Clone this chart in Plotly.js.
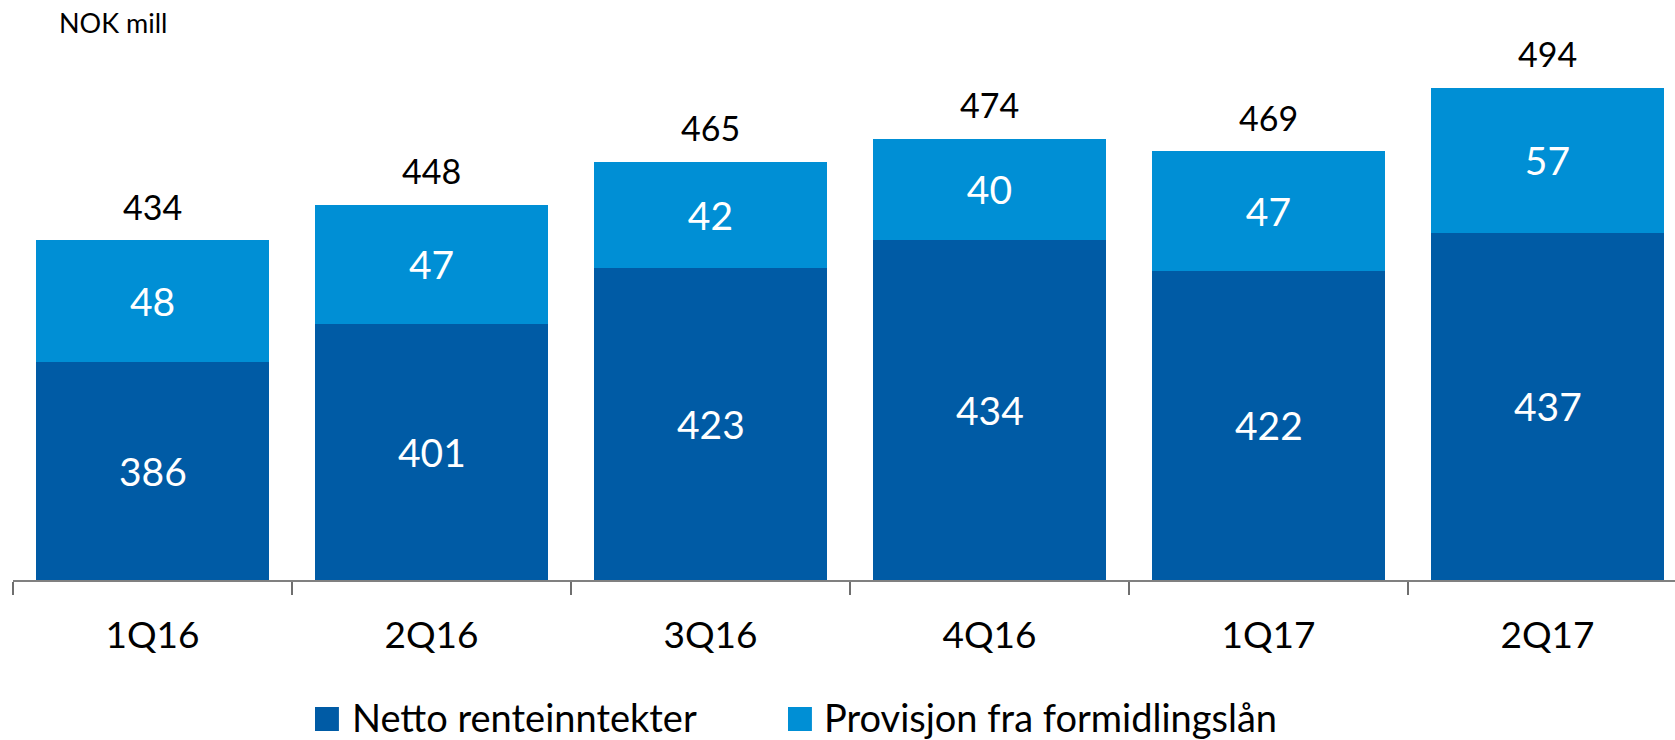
<!DOCTYPE html>
<html>
<head>
<meta charset="utf-8">
<script src="https://cdn.plot.ly/plotly-3.0.1.min.js"></script>
<style>
  html, body { margin: 0; padding: 0; background: #ffffff; }
  #chart { width: 1675px; height: 740px; }
</style>
</head>
<body>
<div id="chart"></div>
<script>
// ---- data ----
const categories = ["1Q16", "2Q16", "3Q16", "4Q16", "1Q17", "2Q17"];
const seriesNames = ["Netto renteinntekter", "Provisjon fra formidlingslån"];
const nettoRenteinntekter = [386, 401, 423, 434, 422, 437];
const provisjonFormidlingslan = [48, 47, 42, 40, 47, 57];
const unitLabel = "NOK mill";

const totals = categories.map((c, i) => nettoRenteinntekter[i] + provisjonFormidlingslan[i]);

// ---- styles ----
const darkBlue = "#005ba5";
const lightBlue = "#008fd5";
const fontFamily = "Lato, 'Open Sans', sans-serif";
const yMin = 300, yMax = 520;
const insideSize = 39;

const traces = [
  {
    type: "bar",
    name: seriesNames[0],
    x: categories,
    y: nettoRenteinntekter,
    marker: { color: darkBlue, line: { width: 0 } },
    textposition: "none",
    hoverinfo: "x+y+name"
  },
  {
    type: "bar",
    name: seriesNames[1],
    x: categories,
    y: provisjonFormidlingslan,
    marker: { color: lightBlue, line: { width: 0 } },
    text: provisjonFormidlingslan.map(String),
    textposition: "inside",
    insidetextanchor: "middle",
    textfont: { family: fontFamily, size: insideSize, color: "#ffffff" },
    hoverinfo: "x+y+name"
  }
];

// labels of the dark segments, centred on the visible part of each bar
const annotations = categories.map((c, i) => ({
  x: c, y: (yMin + nettoRenteinntekter[i]) / 2, xref: "x", yref: "y",
  text: String(nettoRenteinntekter[i]), showarrow: false,
  yanchor: "middle",
  font: { family: fontFamily, size: insideSize, color: "#ffffff" }
}));

categories.forEach((c, i) => annotations.push({
  x: c, y: totals[i], xref: "x", yref: "y",
  text: String(totals[i]), showarrow: false,
  yanchor: "middle", yshift: 34,
  font: { family: fontFamily, size: 34, color: "#000000" }
}));

annotations.push({
  x: 0.0265, y: 1.0, xref: "paper", yref: "paper",
  xanchor: "left", yanchor: "middle",
  text: unitLabel, showarrow: false,
  font: { family: fontFamily, size: 27, color: "#000000" }
});

// custom legend (large swatches)
const legendItems = [
  { name: seriesNames[0], color: darkBlue, sx0: 0.1817, sx1: 0.1961, tx: 0.2030 },
  { name: seriesNames[1], color: lightBlue, sx0: 0.4663, sx1: 0.4807, tx: 0.4870 }
];
const shapes = [];
legendItems.forEach(it => {
  shapes.push({
    type: "rect", xref: "paper", yref: "paper",
    x0: it.sx0, x1: it.sx1, y0: -0.2706, y1: -0.2276,
    fillcolor: it.color, line: { width: 0 }
  });
  annotations.push({
    x: it.tx, y: -0.2455, xref: "paper", yref: "paper",
    xanchor: "left", yanchor: "middle", showarrow: false,
    text: it.name,
    font: { family: fontFamily, size: 38, color: "#000000" }
  });
});

const layout = {
  width: 1675,
  height: 740,
  margin: { l: 13, r: 0, t: 22, b: 160, pad: 0 },
  paper_bgcolor: "#ffffff",
  plot_bgcolor: "#ffffff",
  barmode: "stack",
  bargap: 0.168,
  showlegend: false,
  font: { family: fontFamily, color: "#000000" },
  xaxis: {
    type: "category",
    range: [-0.5, 5.457],
    tickson: "boundaries",
    ticks: "outside",
    ticklen: 13,
    tickwidth: 1.5,
    tickcolor: "#6f6f6f",
    showline: true,
    linecolor: "#808080",
    linewidth: 1.5,
    showgrid: false,
    zeroline: false,
    ticklabelstandoff: 22,
    tickfont: { family: fontFamily, size: 37, color: "#000000" },
    fixedrange: true
  },
  yaxis: {
    range: [yMin, yMax],
    visible: false,
    showgrid: false,
    zeroline: false,
    fixedrange: true
  },
  annotations: annotations,
  shapes: shapes
};

Plotly.newPlot("chart", traces, layout, { displayModeBar: false, responsive: false });
</script>
</body>
</html>
